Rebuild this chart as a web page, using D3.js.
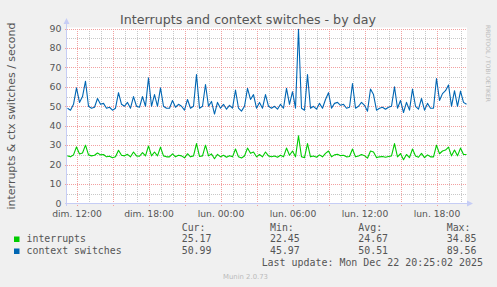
<!DOCTYPE html>
<html><head><meta charset="utf-8">
<script src="https://cdn.jsdelivr.net/npm/d3@7"></script>
<style>html,body{margin:0;padding:0;background:#f0f0f0;}svg{display:block;}</style>
</head><body>
<svg id="c" width="497" height="287"></svg>
<script>
// ---- data ----
const title = "Interrupts and context switches - by day";
const yLabel = "interrupts & ctx switches / second";
const startTime = Date.UTC(2025, 11, 21, 11, 15); // first sample
const stepMinutes = 15;
const interrupts = [24.5,24,25,29.1,25.5,26,30,25,24.5,24.8,26,25,25.2,24,24.3,23.5,24,27.4,24.8,24.5,
25.3,24,26.5,24.5,24.3,26.2,24.5,29.6,24.5,26.5,24.5,29,24.5,24,24,25.5,24,24.8,24.5,23.5,
25.6,24,24.5,30.8,24.2,24.5,30,24.5,25.5,23,25.3,24,24.8,23.8,24.6,24,28,24,23.4,24.4,
28.5,25.8,26.5,24,25.2,24,26.5,24.5,24,24.4,23.8,24.8,24,28.5,24.8,27,24,34.85,24,23.6,
30.8,24,24.4,23.8,25,24,25.8,27,24,25,25.3,24.6,24.8,24,24.2,28,24,24.4,25.2,24.6,
23.3,27,26.5,23.6,24,24.2,23.8,24.2,24.5,30.8,24,25.7,22.5,25.2,23.6,28,24.4,23.8,25.8,23.6,
25,24,24,30,25.6,27,27.5,29,24.5,27.5,24.5,28.5,25.2,25.17];
const contextSwitches = [49,48,51,59.5,52,55,62.9,50,49,49.5,54,51,51.5,49,49.5,48,49,57,51,50,
52,49,55,50,49.5,55,50,64.6,50,56,50,59.5,50,49,49,53,49.5,51,50,48,
53.5,49,50,66.3,49,50,61.2,50,52.5,46,52,49,51,48.5,50.5,49,58.3,49,47.5,50,
59.2,53.5,56,49,52,49,56,50,49,50,48.5,51,49,59.2,51,57.5,49,89.6,49,48,
66.3,49,50,48.5,51.5,49,53.5,57,49,51.5,52,50.5,51,49,49.5,61.7,49,50,52,50.5,
47.5,58.9,56,48,49,49.5,48.5,49.5,50,60,49,53,46.8,52,48,58.8,50,48.5,54,48,
51.5,49,49,64.3,53,56.5,58,61,50,58,50,57.8,52,51];
const seriesNames = ["interrupts", "context switches"];
const seriesColors = ["#00cc00", "#0066b3"];
const statHeaders = ["Cur:", "Min:", "Avg:", "Max:"];
const statValues = [["25.17","22.45","24.67","34.85"],["50.99","45.97","50.51","89.56"]];
const yTicks = [0,10,20,30,40,50,60,70,80,90];
const yMinor = [5,15,25,35,45,55,65,75,85];
const xTickTimes = [Date.UTC(2025,11,21,12), Date.UTC(2025,11,21,18), Date.UTC(2025,11,22,0),
                    Date.UTC(2025,11,22,6), Date.UTC(2025,11,22,12), Date.UTC(2025,11,22,18)];
const xTickLabels = ["dim. 12:00","dim. 18:00","lun. 00:00","lun. 06:00","lun. 12:00","lun. 18:00"];
const lastUpdate = "Last update: Mon Dec 22 20:25:02 2025";
const footer = "Munin 2.0.73";
const watermark = "RRDTOOL / TOBI OETIKER";

// ---- layout ----
const svg = d3.select("#c");
const L = 66.5, R = 466.5, T = 28.5, B = 203.5;
const x = d3.scaleUtc().domain([new Date(Date.UTC(2025,11,21,11,10)), new Date(Date.UTC(2025,11,22,20,30))]).range([L, R]);
const y = d3.scaleLinear().domain([0, 90]).range([B, T]);
const FONT = "'DejaVu Sans', sans-serif";
const MONO = "'DejaVu Sans Mono', monospace";
const TXT = "#555";

function fit(sel, w) {
  const n = sel.node(); const fs = parseFloat(sel.attr("font-size"));
  const cur = n.getComputedTextLength();
  if (cur > 0) sel.attr("font-size", (fs * w / cur).toFixed(2));
  return sel;
}

svg.append("rect").attr("width", 497).attr("height", 287).attr("fill", "#f0f0f0");
svg.append("rect").attr("x", L).attr("y", T - 1).attr("width", R - L + 0.5).attr("height", B - T + 1).attr("fill", "#fff");

// minor grid
const g = svg.append("g").attr("shape-rendering", "crispEdges");
const hourTicks = d3.utcHour.range(new Date(Date.UTC(2025,11,21,12)), new Date(Date.UTC(2025,11,22,20,31)));
g.selectAll(".vmin").data(hourTicks.filter(d => d.getUTCHours() % 3 !== 0)).join("line")
  .attr("x1", d => Math.round(x(d)) + 0.5).attr("x2", d => Math.round(x(d)) + 0.5)
  .attr("y1", T).attr("y2", B).attr("stroke", "#c8c8c8").attr("stroke-dasharray", "1,1");
g.selectAll(".hmin").data(yMinor).join("line")
  .attr("x1", L).attr("x2", R).attr("y1", d => Math.round(y(d)) + 0.5).attr("y2", d => Math.round(y(d)) + 0.5)
  .attr("stroke", "#c8c8c8").attr("stroke-dasharray", "1,1");
// major grid
g.selectAll(".vmaj").data(hourTicks.filter(d => d.getUTCHours() % 3 === 0)).join("line")
  .attr("x1", d => Math.round(x(d)) + 0.5).attr("x2", d => Math.round(x(d)) + 0.5)
  .attr("y1", T).attr("y2", B + 3).attr("stroke", "#f2a0a0").attr("stroke-dasharray", "1,1");
g.selectAll(".hmaj").data(yTicks.filter(d => d > 0)).join("line")
  .attr("x1", L - 2).attr("x2", R).attr("y1", d => Math.round(y(d)) + 0.5).attr("y2", d => Math.round(y(d)) + 0.5)
  .attr("stroke", "#f2a0a0").attr("stroke-dasharray", "1,1");

// series
const line = d3.line().x((d, i) => x(new Date(startTime + i * stepMinutes * 60000))).y(d => y(d));
[interrupts, contextSwitches].forEach((s, k) => {
  svg.append("path").datum(s).attr("d", line).attr("fill", "none")
    .attr("stroke", seriesColors[k]).attr("stroke-width", 1.1).attr("stroke-linejoin", "round");
});

// axes lines with arrows
const AX = "#c6cdf5";
svg.append("line").attr("x1", L).attr("x2", L).attr("y1", B + 2).attr("y2", 22).attr("stroke", AX).attr("shape-rendering", "crispEdges");
svg.append("line").attr("x1", L - 2).attr("x2", 470).attr("y1", B).attr("y2", B).attr("stroke", AX).attr("shape-rendering", "crispEdges");
svg.append("path").attr("d", `M${L - 3},${24} L${L},${18} L${L + 3},${24} Z`).attr("fill", AX);
svg.append("path").attr("d", `M${467},${B - 3} L${473},${B} L${467},${B + 3} Z`).attr("fill", AX);

// y axis labels
const ya = d3.axisLeft(y).tickValues(yTicks).tickSize(0).tickPadding(0).tickFormat(d3.format("d"));
const yg = svg.append("g").attr("transform", `translate(${61.5},0)`).call(ya);
yg.select(".domain").remove();
yg.selectAll("text").attr("font-family", FONT).attr("font-size", 9.4).attr("fill", TXT).attr("dy", "0.3em").attr("x", 0);

// x axis labels
const xa = d3.axisBottom(x).tickValues(xTickTimes.map(t => new Date(t))).tickSize(0).tickPadding(0)
  .tickFormat((d, i) => xTickLabels[i]);
const xg = svg.append("g").attr("transform", `translate(0,${217})`).call(xa);
xg.select(".domain").remove();
xg.selectAll("text").attr("font-family", FONT).attr("font-size", 9.2).attr("fill", TXT).attr("dy", 0).attr("y", 0);

// title
const tt = svg.append("text").attr("x", 248).attr("y", 23.5).attr("text-anchor", "middle")
  .attr("font-family", FONT).attr("font-size", 12).attr("fill", TXT).text(title);
fit(tt, 256);

// y label
const yl = svg.append("text").attr("transform", `translate(14.5,${116}) rotate(-90)`).attr("text-anchor", "middle")
  .attr("font-family", FONT).attr("font-size", 10).attr("fill", TXT).text(yLabel);
fit(yl, 187);

// watermark
svg.append("text").attr("transform", `translate(486,25) rotate(90)`).attr("text-anchor", "start")
  .attr("font-family", FONT).attr("font-size", 6.5).attr("fill", "#bdbdbd").text(watermark)
  .call(s => fit(s, 77));

// legend
const colX = [181.7, 270, 358.3, 446.7];
const rowY = [242.3, 254.3];
statHeaders.forEach((h, j) => {
  svg.append("text").attr("x", colX[j]).attr("y", 230.5).attr("font-family", MONO).attr("font-size", 9.9)
    .attr("fill", TXT).text(h);
});
seriesNames.forEach((n, k) => {
  svg.append("rect").attr("x", 14).attr("y", rowY[k] - 5.8).attr("width", 5.5).attr("height", 5.5).attr("fill", seriesColors[k]);
  svg.append("text").attr("x", 26.5).attr("y", rowY[k]).attr("font-family", MONO).attr("font-size", 9.9)
    .attr("fill", TXT).text(n);
  statValues[k].forEach((v, j) => {
    svg.append("text").attr("x", colX[j]).attr("y", rowY[k]).attr("font-family", MONO).attr("font-size", 9.9)
      .attr("fill", TXT).text(v);
  });
});
const lu = svg.append("text").attr("x", 483).attr("y", 266.3).attr("text-anchor", "end").attr("font-family", MONO)
  .attr("font-size", 9.9).attr("fill", TXT).text(lastUpdate);
fit(lu, 221);
svg.append("text").attr("x", 245.5).attr("y", 278.5).attr("text-anchor", "middle").attr("font-family", FONT)
  .attr("font-size", 7).attr("fill", "#bbb").text(footer).call(s => fit(s, 45));
</script>
</body></html>
